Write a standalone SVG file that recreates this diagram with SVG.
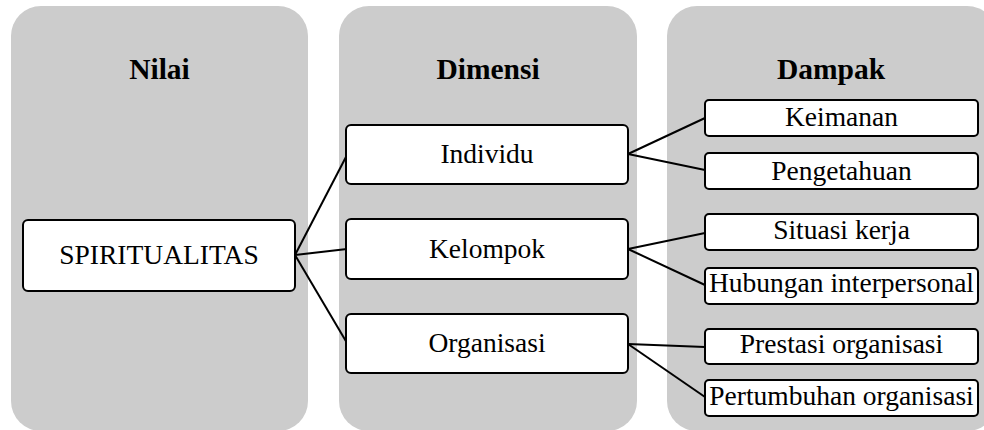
<svg xmlns="http://www.w3.org/2000/svg" width="984" height="430" viewBox="0 0 984 430">
<style>
.panel{fill:#cccccc;}
.box{fill:#ffffff;stroke:#000000;stroke-width:2;}
.title{font-weight:bold;font-size:29.5px;fill:#000;text-anchor:middle;}
.lbl{font-size:27.5px;fill:#000;text-anchor:middle;}
.conn line{stroke:#000;stroke-width:2;}
</style>
<g font-family="'Liberation Serif', 'DejaVu Serif', serif">
<g id="panels">
<rect class="panel" x="11" y="6" width="297" height="425" rx="30"/>
<rect class="panel" x="339" y="6" width="298" height="425" rx="30"/>
<rect class="panel" x="667" y="6" width="330" height="425" rx="30"/>
<text class="title" x="159.5" y="79">Nilai</text>
<text class="title" x="488" y="79">Dimensi</text>
<text class="title" x="831" y="79">Dampak</text>
</g>
<g id="connectors" class="conn">
<line x1="295" y1="255" x2="347" y2="155"/>
<line x1="295" y1="255" x2="347" y2="249"/>
<line x1="295" y1="255" x2="347" y2="343"/>
<line x1="628" y1="154" x2="705" y2="118"/>
<line x1="628" y1="154" x2="705" y2="170"/>
<line x1="628" y1="249" x2="705" y2="233"/>
<line x1="628" y1="249" x2="705" y2="285"/>
<line x1="628" y1="344" x2="705" y2="347"/>
<line x1="628" y1="344" x2="705" y2="397"/>
</g>
<g id="spiritualitas">
<rect class="box" x="23" y="220" width="272" height="71" rx="5"/>
<text class="lbl" x="159" y="264">SPIRITUALITAS</text>
</g>
<g id="individu">
<rect class="box" x="346" y="125" width="282" height="59" rx="5"/>
<text class="lbl" x="487" y="163">Individu</text>
</g>
<g id="kelompok">
<rect class="box" x="346" y="219" width="282" height="60" rx="5"/>
<text class="lbl" x="487" y="258">Kelompok</text>
</g>
<g id="organisasi">
<rect class="box" x="346" y="314" width="282" height="59" rx="5"/>
<text class="lbl" x="487" y="352">Organisasi</text>
</g>
<g id="keimanan">
<rect class="box" x="705" y="100" width="273" height="36" rx="4"/>
<text class="lbl" x="841.5" y="126">Keimanan</text>
</g>
<g id="pengetahuan">
<rect class="box" x="705" y="153" width="273" height="36" rx="4"/>
<text class="lbl" x="841.5" y="180">Pengetahuan</text>
</g>
<g id="situasi">
<rect class="box" x="705" y="214" width="273" height="36" rx="4"/>
<text class="lbl" x="841.5" y="239">Situasi kerja</text>
</g>
<g id="hubungan">
<rect class="box" x="705" y="268" width="273" height="36" rx="4"/>
<text class="lbl" x="841.5" y="292">Hubungan interpersonal</text>
</g>
<g id="prestasi">
<rect class="box" x="705" y="329" width="273" height="35" rx="4"/>
<text class="lbl" x="841.5" y="353">Prestasi organisasi</text>
</g>
<g id="pertumbuhan">
<rect class="box" x="705" y="380" width="273" height="36" rx="4"/>
<text class="lbl" x="841.5" y="405">Pertumbuhan organisasi</text>
</g>
</g>
</svg>
